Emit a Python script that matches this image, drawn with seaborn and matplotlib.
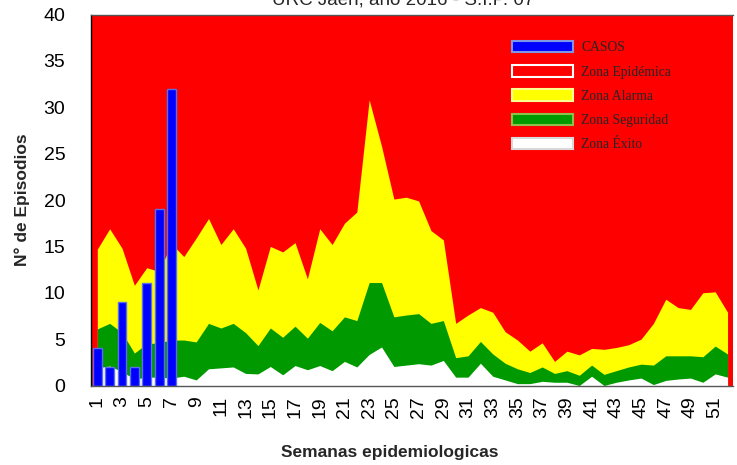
import matplotlib.pyplot as plt
import matplotlib.patches as mpatches
import seaborn as sns

sns.set_theme(style="white")
plt.rcParams['font.family'] = ['Liberation Sans', 'DejaVu Sans']

# weekly thresholds of the epidemic channel
semanas = list(range(1, 53))
zona_alarma = [14.7, 16.9, 14.8, 10.8, 12.7, 12.3, 15.3, 13.9, 15.9, 18.0, 15.2, 16.9, 14.8,
               10.3, 15.0, 14.4, 15.4, 11.5, 16.9, 15.2, 17.5, 18.7, 30.8, 25.8, 20.1, 20.3, 19.9,
               16.7, 15.7, 6.7, 7.6, 8.4, 7.9, 5.8, 4.9, 3.7, 4.6, 2.6, 3.7, 3.3,
               4.0, 3.9, 4.1, 4.4, 5.0, 6.7, 9.3, 8.4, 8.2, 10.0, 10.1, 7.9]
zona_seguridad = [6.1, 6.7, 5.7, 3.5, 4.5, 4.6, 4.9, 4.9, 4.7, 6.7, 6.2, 6.7, 5.7,
                  4.3, 6.2, 5.2, 6.4, 5.1, 6.8, 5.9, 7.4, 7.0, 11.1, 11.1, 7.4, 7.6, 7.75,
                  6.7, 7.0, 3.0, 3.2, 4.75, 3.4, 2.4, 1.8, 1.4, 2.0, 1.3, 1.6, 1.1,
                  2.2, 1.2, 1.6, 2.0, 2.3, 2.2, 3.2, 3.2, 3.2, 3.1, 4.25, 3.4]
zona_exito = [1.9, 2.1, 1.5, 0.7, 0.9, 0.9, 0.8, 1.0, 0.6, 1.8, 1.9, 2.0, 1.3,
              1.25, 2.05, 1.15, 2.15, 1.7, 2.15, 1.6, 2.6, 2.0, 3.35, 4.15, 2.05, 2.2, 2.35,
              2.2, 2.7, 0.9, 0.9, 2.4, 1.0, 0.6, 0.2, 0.2, 0.45, 0.35, 0.35, 0.0,
              1.0, 0.0, 0.35, 0.6, 0.8, 0.1, 0.55, 0.7, 0.8, 0.35, 1.25, 0.9]

# cases reported so far
semanas_casos = [1, 2, 3, 4, 5, 6, 7]
casos = [4, 2, 9, 2, 11, 19, 32]

ticks_semanas = list(range(1, 53, 2))
etiquetas = ['CASOS', 'Zona Epidémica', 'Zona Alarma', 'Zona Seguridad', 'Zona Éxito']
titulo = 'URC Jaén, año 2016 - S.I.P. 07'

fig = plt.figure(figsize=(7.37, 4.65), dpi=100)
ax = fig.add_axes([91 / 737, 1 - 385.5 / 465, (732.5 - 91) / 737, (385.5 - 14.5) / 465])
ax.set_facecolor('#ff0000')

ax.fill_between(semanas, zona_alarma, color='#ffff00', lw=0)
ax.fill_between(semanas, zona_seguridad, color='#009900', lw=0)
ax.fill_between(semanas, zona_exito, color='#ffffff', lw=0)

sns.barplot(x=semanas_casos, y=casos, native_scale=True, width=0.72, color='#0000ff',
            saturation=1, edgecolor='#5b6ee8', linewidth=1, ax=ax)

ax.set_xlim(0.49, 52.4)
ax.set_ylim(0, 40)
ax.set_xticks(ticks_semanas)
ax.set_xticklabels([str(t) for t in ticks_semanas], rotation=90)
ax.set_yticks(range(0, 41, 5))
ax.tick_params(axis='x', length=0, pad=7.5, labelsize=14, colors='black')
ax.tick_params(axis='y', length=0, pad=18.5, labelsize=14, colors='black')
ax.grid(False)

ax.spines['left'].set_color('black')
ax.spines['bottom'].set_color('#555555')
ax.spines['top'].set_color('#555555')
ax.spines['right'].set_visible(False)
for s in ['left', 'bottom', 'top']:
    ax.spines[s].set_linewidth(1)

ax.set_ylabel('N° de Episodios', fontsize=12.5, fontweight='bold')
ax.yaxis.label.set_va('center')
ax.yaxis.set_label_coords((22 - 91) / 641.5, 0.5)
ax.set_xlabel('Semanas epidemiologicas', fontsize=12.5, fontweight='bold')
ax.xaxis.label.set_va('center')
ax.xaxis.set_label_coords((390 - 91) / 641.5, (385.5 - 452) / 371)

fig.text(403 / 737, 1 - 4.5 / 465, titulo, ha='center', va='baseline', fontsize=13.5)

handles = [
    mpatches.Patch(facecolor='#0000ff', edgecolor='#7f95e6', linewidth=1.5),
    mpatches.Patch(facecolor='#ff0000', edgecolor='#ffffff', linewidth=1.5),
    mpatches.Patch(facecolor='#ffff00', edgecolor='#ffff90', linewidth=1.5),
    mpatches.Patch(facecolor='#009900', edgecolor='#8cc04a', linewidth=1.5),
    mpatches.Patch(facecolor='#ffffff', edgecolor='#d8d8d8', linewidth=1.5),
]
ax.legend(handles, etiquetas, loc='upper left', bbox_to_anchor=(512 / 737, 1 - 41 / 465),
          bbox_transform=fig.transFigure, frameon=False,
          prop={'family': 'Liberation Serif', 'size': 9.8},
          handlelength=4.5, handleheight=0.9, handletextpad=0.6,
          labelspacing=0.8, borderpad=0, borderaxespad=0)

fig.savefig('out.png', dpi=100)
